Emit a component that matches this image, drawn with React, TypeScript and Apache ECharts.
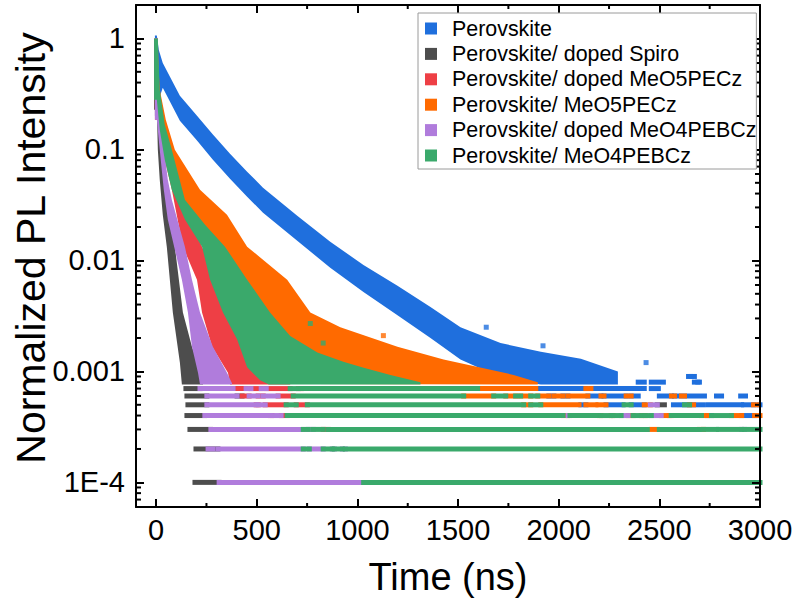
import { useEffect, useRef } from 'react';
import * as echarts from 'echarts';

const FONT = "'Liberation Sans', Arial, Helvetica, sans-serif";

const seriesNames = [
  'Perovskite',
  'Perovskite/ doped Spiro',
  'Perovskite/ doped MeO5PECz',
  'Perovskite/ MeO5PECz',
  'Perovskite/ doped MeO4PEBCz',
  'Perovskite/ MeO4PEBCz',
];
const seriesColors = ['#1F6FDD', '#4D4D4D', '#EE3F45', '#FF6A00', '#B07CDC', '#3AA96B'];

// Dense decay bands: upper and lower envelopes [time ns, normalized intensity]
const blueUpper = [[-6, 1.06], [3.5, 1.06], [13, 0.79], [33, 0.6], [118, 0.305], [203, 0.201], [282, 0.136], [367, 0.0914], [452, 0.063], [531, 0.0452], [616, 0.0338], [701, 0.0253], [865, 0.0147], [1030, 0.0091], [1199, 0.0059], [1363, 0.0038], [1512, 0.0025], [1711, 0.0018], [1911, 0.0015], [2110, 0.0013], [2294, 0.001]];
const blueLower = [[-6, 0.2], [13, 0.28], [33, 0.36], [118, 0.181], [203, 0.12], [282, 0.0807], [367, 0.0545], [452, 0.0375], [531, 0.0269], [616, 0.0201], [701, 0.015], [865, 0.0086], [1030, 0.0052], [1199, 0.0032], [1363, 0.002], [1512, 0.00128], [1711, 0.00088], [1911, 0.00076], [2294, 0.00076]];

const grayUpper = [[-10, 1.0], [8.5, 1.0], [13, 0.28], [28, 0.122], [43, 0.0533], [63, 0.0286], [93, 0.0133], [133, 0.0034], [178, 0.00167], [218, 0.00104], [233, 0.00077]];
const grayLower = [[-10, 0.228], [3.5, 0.228], [8.5, 0.0993], [18, 0.0533], [33, 0.0258], [53, 0.0133], [83, 0.0034], [118, 0.0012], [128, 0.00076], [233, 0.00076]];

const redUpper = [[-6, 1.0], [8, 1.0], [18, 0.28], [68, 0.0993], [128, 0.0352], [228, 0.0133], [302, 0.0067], [357, 0.0034], [467, 0.00167], [556, 0.00097], [666, 0.00078]];
const redLower = [[-6, 0.185], [8.5, 0.185], [43, 0.0807], [78, 0.0433], [133, 0.0133], [203, 0.0067], [228, 0.0034], [278, 0.00167], [357, 0.00097], [367, 0.00076], [666, 0.00076]];

const orangeUpper = [[-6, 1.0], [3.5, 1.0], [18, 0.345], [48, 0.185], [93, 0.0993], [218, 0.0433], [352, 0.0258], [452, 0.0133], [651, 0.0067], [766, 0.0034], [915, 0.0025], [1199, 0.00167], [1428, 0.00128], [1776, 0.00093], [1896, 0.0008]];
const orangeLower = [[-6, 0.228], [3.5, 0.228], [43, 0.122], [118, 0.0433], [218, 0.0154], [367, 0.0044], [566, 0.00128], [766, 0.00077], [1896, 0.00076]];

const purpleUpper = [[-6, 1.0], [8, 1.0], [13, 0.345], [28, 0.15], [58, 0.0533], [78, 0.0352], [143, 0.0133], [178, 0.0067], [218, 0.0034], [282, 0.00167], [352, 0.00097], [377, 0.00078]];
const purpleLower = [[-6, 0.185], [3.5, 0.185], [18, 0.0993], [38, 0.0433], [58, 0.0233], [93, 0.0125], [128, 0.0067], [158, 0.0034], [178, 0.00167], [208, 0.00097], [218, 0.00076], [377, 0.00076]];

const greenUpper = [[-10, 1.0], [8.5, 1.0], [18, 0.345], [43, 0.167], [78, 0.0993], [143, 0.0352], [243, 0.021], [342, 0.0133], [452, 0.0067], [566, 0.0034], [666, 0.00208], [801, 0.00148], [930, 0.00122], [1031, 0.00108], [1164, 0.00093], [1313, 0.0008]];
const greenLower = [[-10, 0.28], [3.5, 0.28], [18, 0.15], [43, 0.0807], [78, 0.0433], [143, 0.0233], [228, 0.0133], [268, 0.0067], [332, 0.0034], [402, 0.00195], [452, 0.00109], [517, 0.00083], [560, 0.00076], [1313, 0.00076]];

// Quantized low-count rows: [start ns, end ns, level]
const blueRows = [
  [1886, 2135, 7e-4], [2160, 2425, 7e-4], [2460, 2495, 7e-4],
  [1951, 1976, 6e-4], [2021, 2046, 6e-4], [2145, 2210, 6e-4], [2225, 2335, 6e-4], [2360, 2395, 6e-4], [2500, 2560, 6e-4], [2575, 2610, 6e-4], [2635, 2724, 6e-4], [2784, 2809, 6e-4], [2904, 2928, 6e-4],
  [2110, 2135, 5e-4], [2235, 2320, 5e-4], [2360, 2425, 5e-4], [2570, 2645, 5e-4], [2670, 2719, 5e-4], [2744, 2909, 5e-4], [2918, 2968, 5e-4], [2995, 3000, 5e-4],
  [2739, 2759, 4e-4], [2909, 2973, 4e-4],
  [2395, 2425, 8e-4], [2460, 2520, 8e-4], [2674, 2699, 8e-4], [2645, 2674, 9e-4],
];
const grayRows = [
  [148, 218, 7e-4], [153, 252, 6e-4], [402, 427, 6e-4], [158, 252, 5e-4], [2490, 2525, 5e-4],
  [153, 242, 4e-4], [168, 272, 3e-4], [198, 258, 2e-4], [282, 307, 2e-4], [193, 313, 1e-4],
];
const redRows = [
  [387, 447, 7e-4], [471, 522, 7e-4], [547, 666, 7e-4], [706, 721, 7e-4],
  [427, 462, 6e-4], [507, 532, 6e-4], [606, 681, 6e-4],
  [497, 507, 5e-4], [542, 646, 5e-4], [696, 751, 5e-4],
  [566, 576, 4e-4], [621, 651, 4e-4], [2549, 2559, 4e-4], [830, 855, 3e-4],
];
const orangeRows = [
  [1597, 1886, 7e-4], [2135, 2160, 7e-4],
  [1528, 1677, 6e-4], [1737, 1786, 6e-4], [1811, 1861, 6e-4], [1896, 1951, 6e-4], [1976, 2021, 6e-4], [2046, 2145, 6e-4], [2210, 2225, 6e-4], [2335, 2360, 6e-4], [2560, 2575, 6e-4], [2610, 2625, 6e-4],
  [1826, 1861, 5e-4], [1911, 2101, 5e-4], [2135, 2185, 5e-4], [2195, 2235, 5e-4], [2425, 2455, 5e-4], [2650, 2670, 5e-4], [2968, 2988, 5e-4],
  [2021, 2046, 4e-4], [2200, 2210, 4e-4], [2260, 2270, 4e-4], [2345, 2370, 4e-4], [2410, 2430, 4e-4], [2509, 2549, 4e-4], [2709, 2739, 4e-4], [2858, 2909, 4e-4], [2973, 3000, 4e-4],
  [2460, 2490, 3e-4], [2699, 2719, 3e-4],
];
const purpleRows = [
  [218, 382, 7e-4], [447, 471, 7e-4], [522, 547, 7e-4],
  [252, 402, 6e-4], [462, 507, 6e-4], [532, 606, 6e-4],
  [252, 497, 5e-4], [507, 542, 5e-4], [2455, 2490, 5e-4],
  [242, 566, 4e-4], [576, 621, 4e-4], [2046, 2056, 4e-4], [2310, 2345, 4e-4], [2460, 2509, 4e-4],
  [272, 731, 3e-4], [756, 781, 3e-4], [2909, 2923, 3e-4],
  [258, 282, 2e-4], [307, 731, 2e-4], [761, 830, 2e-4], [875, 885, 2e-4], [925, 940, 2e-4],
  [313, 1031, 1e-4],
];
const greenRows = [
  [666, 706, 7e-4], [721, 1597, 7e-4],
  [681, 1528, 6e-4], [1677, 1737, 6e-4], [1786, 1811, 6e-4], [1861, 1896, 6e-4],
  [646, 696, 5e-4], [751, 1826, 5e-4], [1861, 1911, 5e-4], [2325, 2360, 5e-4], [2625, 2650, 5e-4],
  [651, 2021, 4e-4], [2056, 2200, 4e-4], [2210, 2260, 4e-4], [2270, 2310, 4e-4], [2370, 2410, 4e-4], [2430, 2460, 4e-4], [2559, 2709, 4e-4], [2759, 2858, 4e-4],
  [731, 756, 3e-4], [781, 830, 3e-4], [855, 2440, 3e-4], [2500, 2699, 3e-4], [2719, 2784, 3e-4], [2794, 2909, 3e-4], [2923, 3000, 3e-4],
  [731, 761, 2e-4], [830, 875, 2e-4], [885, 925, 2e-4], [940, 3000, 2e-4],
  [1031, 3000, 1e-4],
];

// Isolated points outside the dense bands
const blueOutliers = [[1640, 0.0025], [1922, 0.0017], [2434, 0.0012], [2658, 0.0009], [2691, 0.0008]];
const orangeOutliers = [[1129, 0.0021]];
const greenOutliers = [[766, 0.0027], [830, 0.0018]];

// Axis ticks
const xMinorTicks = [250, 750, 1250, 1750, 2250, 2750];
const yMinorTicks = [
  7e-5, 8e-5, 9e-5,
  2e-4, 3e-4, 4e-4, 5e-4, 6e-4, 7e-4, 8e-4, 9e-4,
  2e-3, 3e-3, 4e-3, 5e-3, 6e-3, 7e-3, 8e-3, 9e-3,
  0.02, 0.03, 0.04, 0.05, 0.06, 0.07, 0.08, 0.09,
  0.2, 0.3, 0.4, 0.5, 0.6, 0.7, 0.8, 0.9,
];

const yTitle = 'Normalized PL Intensity';
const xTitle = 'Time (ns)';

const uppers = [blueUpper, grayUpper, redUpper, orangeUpper, purpleUpper, greenUpper];
const lowers = [blueLower, grayLower, redLower, orangeLower, purpleLower, greenLower];
const rowsList = [blueRows, grayRows, redRows, orangeRows, purpleRows, greenRows];
const outliersList = [blueOutliers, [], [], orangeOutliers, [], greenOutliers];

function formatLog(v: number): string {
  const lg = Math.log10(v);
  const e = Math.round(lg);
  if (Math.abs(lg - e) > 1e-6) return '';
  if (e >= 0) return String(Math.pow(10, e));
  if (e >= -3) return '0.' + '0'.repeat(-e - 1) + '1';
  return '1E' + e;
}

function buildOption() {
  const series: any[] = [];
  seriesNames.forEach((name, k) => {
    const color = seriesColors[k];
    const poly = uppers[k].concat(lowers[k].slice().reverse());
    series.push({
      type: 'custom',
      name,
      coordinateSystem: 'cartesian2d',
      data: poly,
      encode: { x: 0, y: 1 },
      itemStyle: { color },
      silent: true,
      z: 2,
      renderItem: (params: any, api: any) => {
        if (params.dataIndexInside !== 0) return null;
        const pts: number[][] = [];
        for (let i = 0; i < params.dataInsideLength; i++) {
          pts.push(api.coord([api.value(0, i), api.value(1, i)]));
        }
        return { type: 'polygon', shape: { points: pts }, style: { fill: color } };
      },
    });
    series.push({
      type: 'custom',
      name: name + ' (low counts)',
      coordinateSystem: 'cartesian2d',
      data: rowsList[k],
      encode: { x: [0, 1], y: 2 },
      itemStyle: { color },
      silent: true,
      z: 2,
      renderItem: (_params: any, api: any) => {
        const a = api.coord([api.value(0), api.value(2)]);
        const b = api.coord([api.value(1), api.value(2)]);
        return {
          type: 'rect',
          shape: { x: a[0] - 2.5, y: a[1] - 2.5, width: Math.max(b[0] - a[0] + 5, 5), height: 5 },
          style: { fill: color },
        };
      },
    });
    if (outliersList[k].length) {
      series.push({
        type: 'scatter',
        name: name + ' (outliers)',
        data: outliersList[k],
        symbol: 'rect',
        symbolSize: 5,
        itemStyle: { color },
        silent: true,
        z: 2,
      });
    }
  });

  // minor ticks on all four sides
  series.push({
    type: 'custom',
    name: 'yMinor',
    coordinateSystem: 'cartesian2d',
    data: yMinorTicks.map((v) => [0, v]),
    encode: { x: 0, y: 1 },
    silent: true,
    z: 10,
    renderItem: (params: any, api: any) => {
      const cs = params.coordSys;
      const y = api.coord([0, api.value(1)])[1];
      return {
        type: 'group',
        children: [
          { type: 'line', shape: { x1: cs.x, y1: y, x2: cs.x + 5, y2: y }, style: { stroke: '#000', lineWidth: 2 } },
          { type: 'line', shape: { x1: cs.x + cs.width - 5, y1: y, x2: cs.x + cs.width, y2: y }, style: { stroke: '#000', lineWidth: 2 } },
        ],
      };
    },
  });
  series.push({
    type: 'custom',
    name: 'xMinor',
    coordinateSystem: 'cartesian2d',
    data: xMinorTicks.map((t) => [t, 1]),
    encode: { x: 0, y: 1 },
    silent: true,
    z: 10,
    renderItem: (params: any, api: any) => {
      const cs = params.coordSys;
      const x = api.coord([api.value(0), 1])[0];
      return {
        type: 'group',
        children: [
          { type: 'line', shape: { x1: x, y1: cs.y + cs.height, x2: x, y2: cs.y + cs.height - 4 }, style: { stroke: '#000', lineWidth: 2 } },
          { type: 'line', shape: { x1: x, y1: cs.y, x2: x, y2: cs.y + 4 }, style: { stroke: '#000', lineWidth: 2 } },
        ],
      };
    },
  });

  const axisLine = { show: true, onZero: false, lineStyle: { color: '#000', width: 2 } };
  const axisTick = { show: true, inside: true, length: 8, lineStyle: { color: '#000', width: 2 } };

  return {
    animation: false,
    backgroundColor: '#fff',
    textStyle: { fontFamily: FONT },
    grid: { left: 136, top: 5, width: 624, height: 502, containLabel: false, outerBoundsMode: 'none' },
    graphic: [
      {
        type: 'text',
        x: 31,
        y: 248,
        rotation: Math.PI / 2,
        style: { text: yTitle, fontSize: 41, fontFamily: FONT, fill: '#000', align: 'center', verticalAlign: 'middle' },
        silent: true,
      },
    ],
    legend: {
      orient: 'vertical',
      left: 418,
      top: 13,
      padding: [5, 0, 3, 7],
      itemGap: 4.4,
      itemWidth: 12,
      itemHeight: 12,
      icon: 'rect',
      selectedMode: false,
      backgroundColor: '#fff',
      borderColor: '#9a9a9a',
      borderWidth: 1,
      z: 20,
      textStyle: { fontSize: 21.4, color: '#000', fontFamily: FONT, padding: [0, 0, 0, 10] },
      data: seriesNames.map((n, k) => ({ name: n, icon: 'rect', itemStyle: { color: seriesColors[k] } })),
    },
    xAxis: [
      {
        type: 'value', min: -100, max: 3000, position: 'bottom', z: 5,
        axisLine, axisTick, splitLine: { show: false },
        axisLabel: { fontSize: 29, color: '#000', fontFamily: FONT, margin: 8, showMinLabel: false, formatter: (v: number) => String(v) },
        name: xTitle, nameLocation: 'middle', nameGap: 51,
        nameTextStyle: { fontSize: 38, color: '#000', fontFamily: FONT },
      },
      {
        type: 'value', min: -100, max: 3000, position: 'top', z: 5,
        axisLine, axisTick, splitLine: { show: false }, axisLabel: { show: false },
      },
    ],
    yAxis: [
      {
        type: 'log', logBase: 10, min: 6e-5, max: 2, position: 'left', z: 5,
        axisLine, axisTick, splitLine: { show: false },
        axisLabel: { fontSize: 29, color: '#000', fontFamily: FONT, margin: 11, formatter: formatLog },
      },
      {
        type: 'log', logBase: 10, min: 6e-5, max: 2, position: 'right', z: 5,
        axisLine, axisTick, splitLine: { show: false }, axisLabel: { show: false },
      },
    ],
    series,
  };
}

export default function App() {
  const ref = useRef<HTMLDivElement>(null);
  useEffect(() => {
    document.body.style.margin = '0';
    const chart = echarts.init(ref.current!, null, { renderer: 'svg' });
    chart.setOption(buildOption() as any);
    return () => chart.dispose();
  }, []);
  return <div ref={ref} style={{ position: 'absolute', left: 0, top: 0, width: 795, height: 607 }} />;
}
